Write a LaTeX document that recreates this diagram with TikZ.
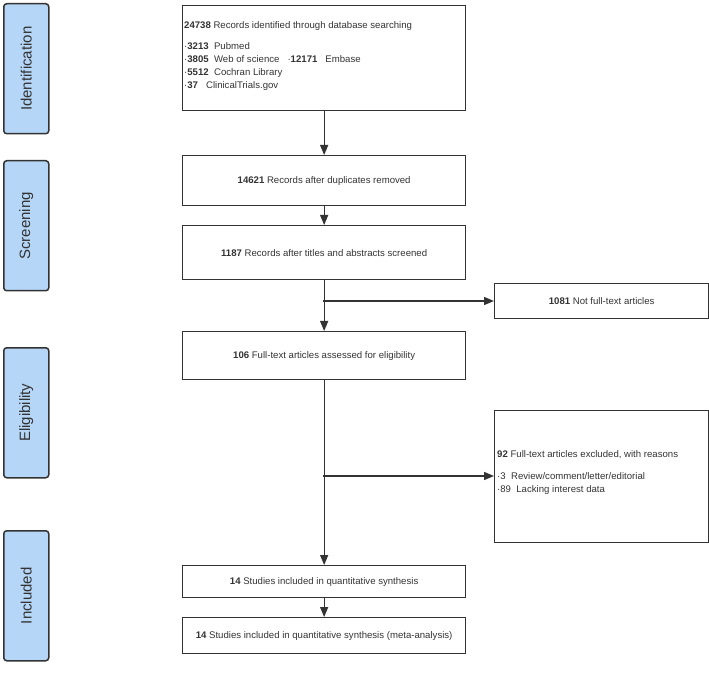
\documentclass[tikz,border=0pt]{standalone}
\usepackage{fontspec}
\setmainfont{Liberation Sans}
\usetikzlibrary{arrows.meta}
\definecolor{labblue}{HTML}{B5D6F7}
\begin{document}
\begin{tikzpicture}[x=1pt,y=-1pt,
  lab/.style={draw=black!80,line width=1.5pt,rounded corners=3pt,fill=labblue,minimum width=45pt,minimum height=130pt,anchor=north west},
  bx/.style={draw=black!80,line width=1.3pt,anchor=north west,inner sep=0pt},
  tx/.style={font=\fontsize{9.6}{13}\selectfont,text=black!80},
  arr/.style={line width=1.3pt,draw=black!80,-{Triangle[length=10pt,width=8pt]}}]
\useasboundingbox (0,0) rectangle (709,684);
\foreach \n/\y/\t in {l1/3/Identification,l2/160/Screening,l3/347/Eligibility,l4/530/Included}
  \node[lab] (\n) at (3,\y) {};
\foreach \n/\t in {l1/Identification,l2/Screening,l3/Eligibility,l4/Included}
  \node[rotate=90,font=\fontsize{15}{17}\selectfont,text=black!80] at (\n.center) {\t};
\node[bx,minimum width=283pt,minimum height=105pt] (b1) at (182,5) {};
\node[tx,anchor=north west,align=left,inner sep=0pt] at (184,21) {\textbf{24738} Records identified through database searching\\[8pt]
·\textbf{3213}\ \ Pubmed\\
·\textbf{3805}\ \ Web of science\ \ \ ·\textbf{12171}\ \ \ Embase\\
·\textbf{5512}\ \ Cochran Library\\
·\textbf{37}\ \ \ ClinicalTrials.gov};
\node[bx,minimum width=283pt,minimum height=50pt,tx] (b2) at (182,155) {\textbf{14621} Records after duplicates removed};
\node[bx,minimum width=283pt,minimum height=54pt,tx] (b3) at (182,225) {\textbf{1187} Records after titles and abstracts screened};
\node[bx,minimum width=283pt,minimum height=48pt,tx] (b4) at (182,331) {\textbf{106} Full-text articles assessed for eligibility};
\node[bx,minimum width=214pt,minimum height=35pt,tx] (b5) at (494,283) {\textbf{1081} Not full-text articles};
\node[bx,minimum width=214pt,minimum height=132pt] (b6) at (494,410) {};
\node[tx,anchor=west,align=left,inner sep=0pt] at (497,473) {\textbf{92} Full-text articles excluded, with reasons\\[9pt]
·3\ \ Review/comment/letter/editorial\\
·89\ \ Lacking interest data};
\node[bx,minimum width=283pt,minimum height=32pt,tx] (b7) at (182,565) {\textbf{14} Studies included in quantitative synthesis};
\node[bx,minimum width=283pt,minimum height=36pt,tx] (b8) at (182,617) {\textbf{14} Studies included in quantitative synthesis (meta-analysis)};
\draw[arr] (b1.south) -- (b2.north);
\draw[arr] (b2.south) -- (b3.north);
\draw[arr] (b3.south) -- (b4.north);
\draw[arr] (b4.south) -- (b7.north);
\draw[arr] (b7.south) -- (b8.north);
\coordinate (j1) at (323,301);
\coordinate (j2) at (323,476);
\draw[arr] (j1) -- (j1 -| b5.west);
\draw[arr] (j2) -- (j2 -| b6.west);
\end{tikzpicture}
\end{document}
